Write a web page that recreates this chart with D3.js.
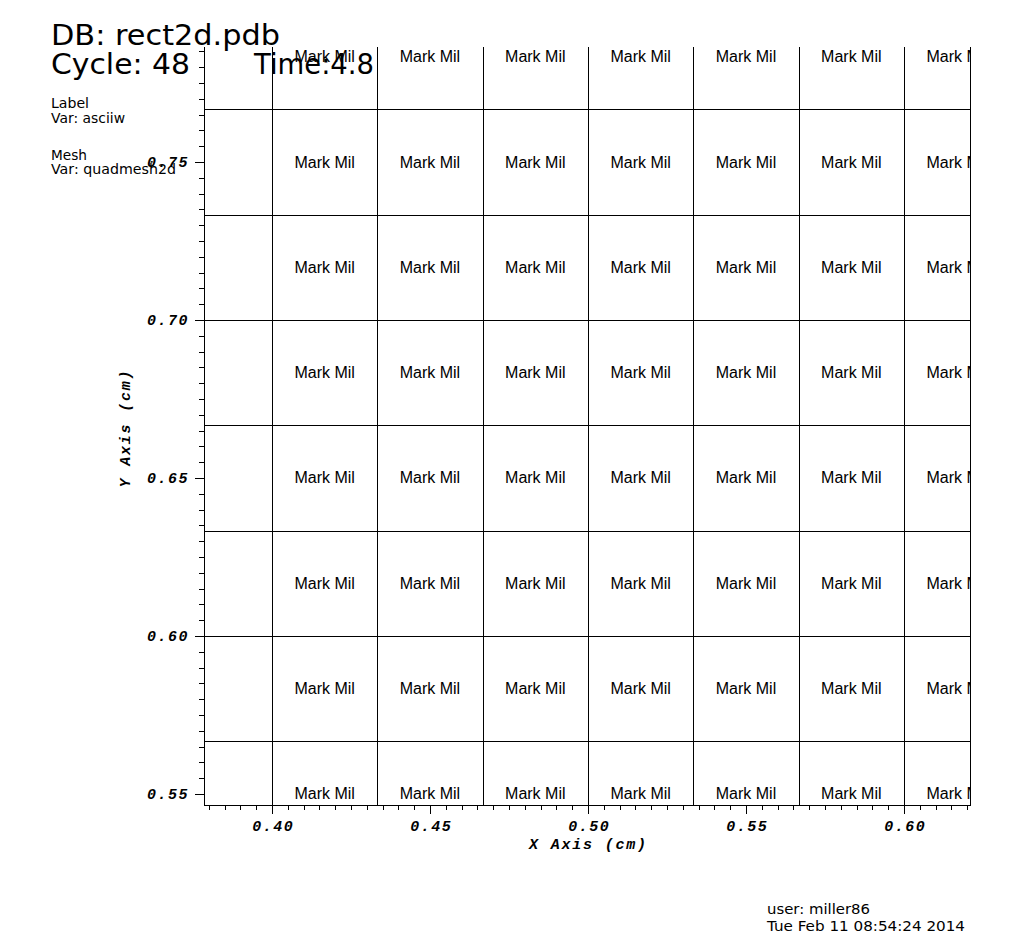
<!DOCTYPE html>
<html><head><meta charset="utf-8">
<script src="https://cdn.jsdelivr.net/npm/d3@7"></script>
<style>
html,body{margin:0;padding:0;background:#fff;}
svg{display:block;}
</style></head>
<body>
<svg id="chart" width="1024" height="947"></svg>
<script>
// ---- data ----
const xMeshLines = [0.40000, 0.43333, 0.46667, 0.50000, 0.53333, 0.56667, 0.60000];
const yMeshLines = [0.56667, 0.60000, 0.63333, 0.66667, 0.70000, 0.73333, 0.76667];
const labelColumns = [0.41667, 0.45000, 0.48333, 0.51667, 0.55000, 0.58333, 0.61667];
const labelRows = [0.55000, 0.58333, 0.61667, 0.65000, 0.68333, 0.71667, 0.75000, 0.78333];
const cellLabel = "Mark Mil";
const xTicks = [0.40, 0.45, 0.50, 0.55, 0.60];
const yTicks = [0.55, 0.60, 0.65, 0.70, 0.75];
const xDomain = [0.3785, 0.6212];
const yDomain = [0.5465, 0.7864];
const minorStep = 0.005;
const xTitle = "X Axis (cm)";
const yTitle = "Y Axis (cm)";
const headerLines = ["DB: rect2d.pdb", "Cycle: 48", "Time:4.8"];
const legendLines = ["Label", "Var: asciiw", "Mesh", "Var: quadmesh2d"];
const footerLines = ["user: miller86", "Tue Feb 11 08:54:24 2014"];

// ---- layout ----
const L = 204, R = 971, T = 47, B = 805;
const svg = d3.select("#chart");
const x = d3.scaleLinear().domain(xDomain).range([L, R]);
const y = d3.scaleLinear().domain(yDomain).range([B, T]);
const px = v => Math.round(v) + 0.5;

svg.append("defs").append("clipPath").attr("id", "plotclip")
  .append("rect").attr("x", L).attr("y", T).attr("width", R - L).attr("height", B - T);

const plot = svg.append("g").attr("clip-path", "url(#plotclip)");

// mesh lines
plot.selectAll("line.vx").data(xMeshLines).join("line")
  .attr("x1", d => px(x(d))).attr("x2", d => px(x(d)))
  .attr("y1", T).attr("y2", B)
  .attr("stroke", "#000").attr("stroke-width", 1);
plot.selectAll("line.hy").data(yMeshLines).join("line")
  .attr("x1", L).attr("x2", R)
  .attr("y1", d => px(y(d))).attr("y2", d => px(y(d)))
  .attr("stroke", "#000").attr("stroke-width", 1);

// labels
const cells = [];
labelRows.forEach(r => labelColumns.forEach(c => cells.push({c, r})));
plot.selectAll("text.cell").data(cells).join("text")
  .attr("x", d => x(d.c)).attr("y", d => y(d.r) + 5.5)
  .attr("text-anchor", "middle")
  .attr("font-family", "Liberation Sans")
  .attr("font-size", 16)
  .attr("fill", "#000")
  .text(cellLabel);

// border line
svg.append("line").attr("x1", px(R) - 1).attr("x2", px(R) - 1).attr("y1", T).attr("y2", B)
  .attr("stroke", "#000");

// axes
const tickFont = "Liberation Mono";
const xMinor = d3.range(Math.ceil(xDomain[0] / minorStep) * minorStep, xDomain[1], minorStep);
const yMinor = d3.range(Math.ceil(yDomain[0] / minorStep) * minorStep, yDomain[1], minorStep);

const xAxisG = svg.append("g").attr("transform", `translate(0,${B})`);
xAxisG.call(d3.axisBottom(x).tickValues(xMinor).tickSize(5).tickFormat(""));
xAxisG.append("g").call(d3.axisBottom(x).tickValues(xTicks).tickSize(9).tickPadding(6)
  .tickFormat(d3.format(".2f")));
xAxisG.selectAll(".domain").attr("stroke", "#000").attr("d", `M${L},0.5H${R}`);
xAxisG.selectAll("line").attr("stroke", "#000");
xAxisG.selectAll("text")
  .attr("font-family", tickFont).attr("font-weight", "bold").attr("font-style", "italic")
  .attr("font-size", 15).attr("letter-spacing", 1.5).attr("fill", "#000")
  .attr("dx", 0.75);

const yAxisG = svg.append("g").attr("transform", `translate(${L},0)`);
yAxisG.call(d3.axisLeft(y).tickValues(yMinor).tickSize(5).tickFormat(""));
yAxisG.append("g").call(d3.axisLeft(y).tickValues(yTicks).tickSize(9).tickPadding(6)
  .tickFormat(d3.format(".2f")));
yAxisG.selectAll(".domain").attr("stroke", "#000").attr("d", `M0.5,${T}V${B}`);
yAxisG.selectAll("line").attr("stroke", "#000");
yAxisG.selectAll("text")
  .attr("font-family", tickFont).attr("font-weight", "bold").attr("font-style", "italic")
  .attr("font-size", 15).attr("letter-spacing", 1.5).attr("fill", "#000");

svg.selectAll(".tick line").attr("shape-rendering", "crispEdges");

// axis titles
svg.append("text").attr("x", (L + R) / 2 + 1).attr("y", 849)
  .attr("text-anchor", "middle")
  .attr("font-family", tickFont).attr("font-weight", "bold").attr("font-style", "italic")
  .attr("font-size", 15).attr("letter-spacing", 1.8).attr("fill", "#000")
  .text(xTitle);
svg.append("text").attr("transform", `translate(130,${(T + B) / 2 + 2}) rotate(-90)`)
  .attr("text-anchor", "middle")
  .attr("font-family", tickFont).attr("font-weight", "bold").attr("font-style", "italic")
  .attr("font-size", 15).attr("letter-spacing", 1.8).attr("fill", "#000")
  .text(yTitle);

// header annotations
const ann = svg.append("g").attr("font-family", "DejaVu Sans").attr("fill", "#000");
ann.append("text").attr("x", 51).attr("y", 45).attr("font-size", 29)
  .attr("textLength", 229).attr("lengthAdjust", "spacingAndGlyphs").text(headerLines[0]);
ann.append("text").attr("x", 51).attr("y", 74).attr("font-size", 29)
  .attr("textLength", 139).attr("lengthAdjust", "spacingAndGlyphs").text(headerLines[1]);
ann.append("text").attr("x", 254).attr("y", 74).attr("font-size", 29)
  .attr("textLength", 120).attr("lengthAdjust", "spacingAndGlyphs").text(headerLines[2]);

const legendY = [108, 123, 160, 174];
const legendW = [38, 74, 36, 125];
legendLines.forEach((t, i) => {
  ann.append("text").attr("x", 51).attr("y", legendY[i]).attr("font-size", 13.5)
    .attr("textLength", legendW[i]).attr("lengthAdjust", "spacingAndGlyphs").text(t);
});

const footY = [914, 931];
const footW = [103, 198];
footerLines.forEach((t, i) => {
  ann.append("text").attr("x", 767).attr("y", footY[i]).attr("font-size", 14)
    .attr("textLength", footW[i]).attr("lengthAdjust", "spacingAndGlyphs").text(t);
});
</script>
</body></html>
